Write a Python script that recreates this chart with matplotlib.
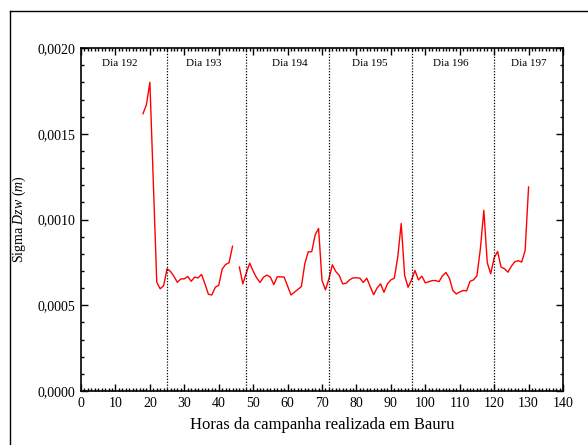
import numpy as np
import matplotlib
matplotlib.use("Agg")
import matplotlib.pyplot as plt
from matplotlib.ticker import MultipleLocator, FuncFormatter
from matplotlib.lines import Line2D

plt.rcParams['font.family'] = ['Liberation Serif', 'DejaVu Serif']
plt.rcParams['mathtext.fontset'] = 'custom'
plt.rcParams['mathtext.rm'] = 'Liberation Serif'
plt.rcParams['mathtext.it'] = 'Liberation Serif:italic'

# Hourly sigma of the zenith wet delay (m); NaN marks the missing hour
hours = [18, 19, 20, 22, 23, 24, 25, 26, 27, 28, 29, 30, 31, 32, 33, 34, 35,
         36, 37, 38, 39, 40, 41, 42, 43, 44, 45, 46, 47, 48, 49, 50, 51, 52,
         53, 54, 55, 56, 57, 58, 59, 61, 64, 65, 66, 67, 68, 69, 70, 71, 72,
         73, 74, 75, 76, 77, 78, 79, 80, 81, 82, 83, 84, 85, 86, 87, 88, 89,
         90, 91, 92, 93, 94, 95, 96, 97, 98, 99, 100, 101, 102, 103, 104, 105,
         106, 107, 108, 109, 110, 111, 112, 113, 114, 115, 116, 117, 118, 119,
         120, 121, 122, 123, 124, 125, 126, 127, 128, 129, 130]
sigma = [0.001617, 0.00167, 0.0018, 0.000634, 0.000596, 0.000615, 0.000713,
         0.000697, 0.000668, 0.000634, 0.000654, 0.000654, 0.000668, 0.00064,
         0.000664, 0.00066, 0.00068, 0.000625, 0.000564, 0.00056, 0.000605,
         0.000617, 0.000711, 0.000738, 0.000748, 0.000844, np.nan, 0.000723,
         0.000625, 0.000688, 0.000746, 0.000699, 0.00066, 0.000633, 0.000664,
         0.000676, 0.000664, 0.000621, 0.000666, 0.000666, 0.000664, 0.00056,
         0.000609, 0.000742, 0.000812, 0.000812, 0.00091, 0.000948, 0.000644,
         0.00059, 0.000654, 0.000736, 0.000697, 0.000674, 0.000625, 0.000629,
         0.000648, 0.00066, 0.00066, 0.000658, 0.000633, 0.000658, 0.000609,
         0.000562, 0.000601, 0.000625, 0.000576, 0.000625, 0.000648, 0.000658,
         0.000781, 0.000977, 0.000674, 0.000605, 0.000648, 0.000703, 0.000648,
         0.00067, 0.000631, 0.000637, 0.000644, 0.000644, 0.000638, 0.000672,
         0.000691, 0.000658, 0.000586, 0.000566, 0.000578, 0.000586, 0.000584,
         0.00064, 0.000648, 0.000672, 0.00083, 0.001054, 0.000748, 0.000684,
         0.000777, 0.000814, 0.000723, 0.000713, 0.000693, 0.000728, 0.000754,
         0.00076, 0.000752, 0.00082, 0.00119]

# Day boundaries and day labels
day_bounds = [25, 48, 72, 96, 120]
day_labels = ["Dia 192", "Dia 193", "Dia 194", "Dia 195", "Dia 196", "Dia 197"]
day_label_x = [11.3, 35.7, 60.7, 84.0, 107.5, 130.0]

fig = plt.figure(figsize=(5.88, 4.45), dpi=100)
ax = fig.add_axes([0.1378, 0.1213, 0.8197, 0.7707])

ax.plot(hours, sigma, color='#ff0000', lw=1.0)

for b in day_bounds:
    ax.axvline(b, color='black', ls=(0, (1, 1.3)), lw=0.9)
for lab, x in zip(day_labels, day_label_x):
    ax.text(x, 0.001912, lab, ha='center', va='center', fontsize=8)

ax.set_xlim(0, 140)
ax.set_ylim(0, 0.002)
ax.xaxis.set_major_locator(MultipleLocator(10))
ax.xaxis.set_minor_locator(MultipleLocator(1))
ax.yaxis.set_major_locator(MultipleLocator(0.0005))
ax.yaxis.set_minor_locator(MultipleLocator(0.0001))
ax.yaxis.set_major_formatter(FuncFormatter(lambda v, p: f"{v:.4f}".replace('.', ',')))

ax.tick_params(which='both', direction='in', top=True, right=True,
               labelsize=10, width=1.0)
ax.tick_params(which='major', length=5, pad=4)
ax.tick_params(which='minor', length=2.5)
for s in ax.spines.values():
    s.set_linewidth(1.2)

ax.set_xlabel("Horas da campanha realizada em Bauru", fontsize=12, labelpad=5)
ax.set_ylabel(r"Sigma $Dzw$ $(m)$", fontsize=10, labelpad=7)

# Outer frame lines around the figure
fig.add_artist(Line2D([10 / 588, 10 / 588], [0, 1 - 11 / 445],
                      transform=fig.transFigure, color='black', lw=1.0))
fig.add_artist(Line2D([10 / 588, 1], [1 - 11 / 445, 1 - 11 / 445],
                      transform=fig.transFigure, color='black', lw=1.0))

fig.savefig("out.png", dpi=100)
